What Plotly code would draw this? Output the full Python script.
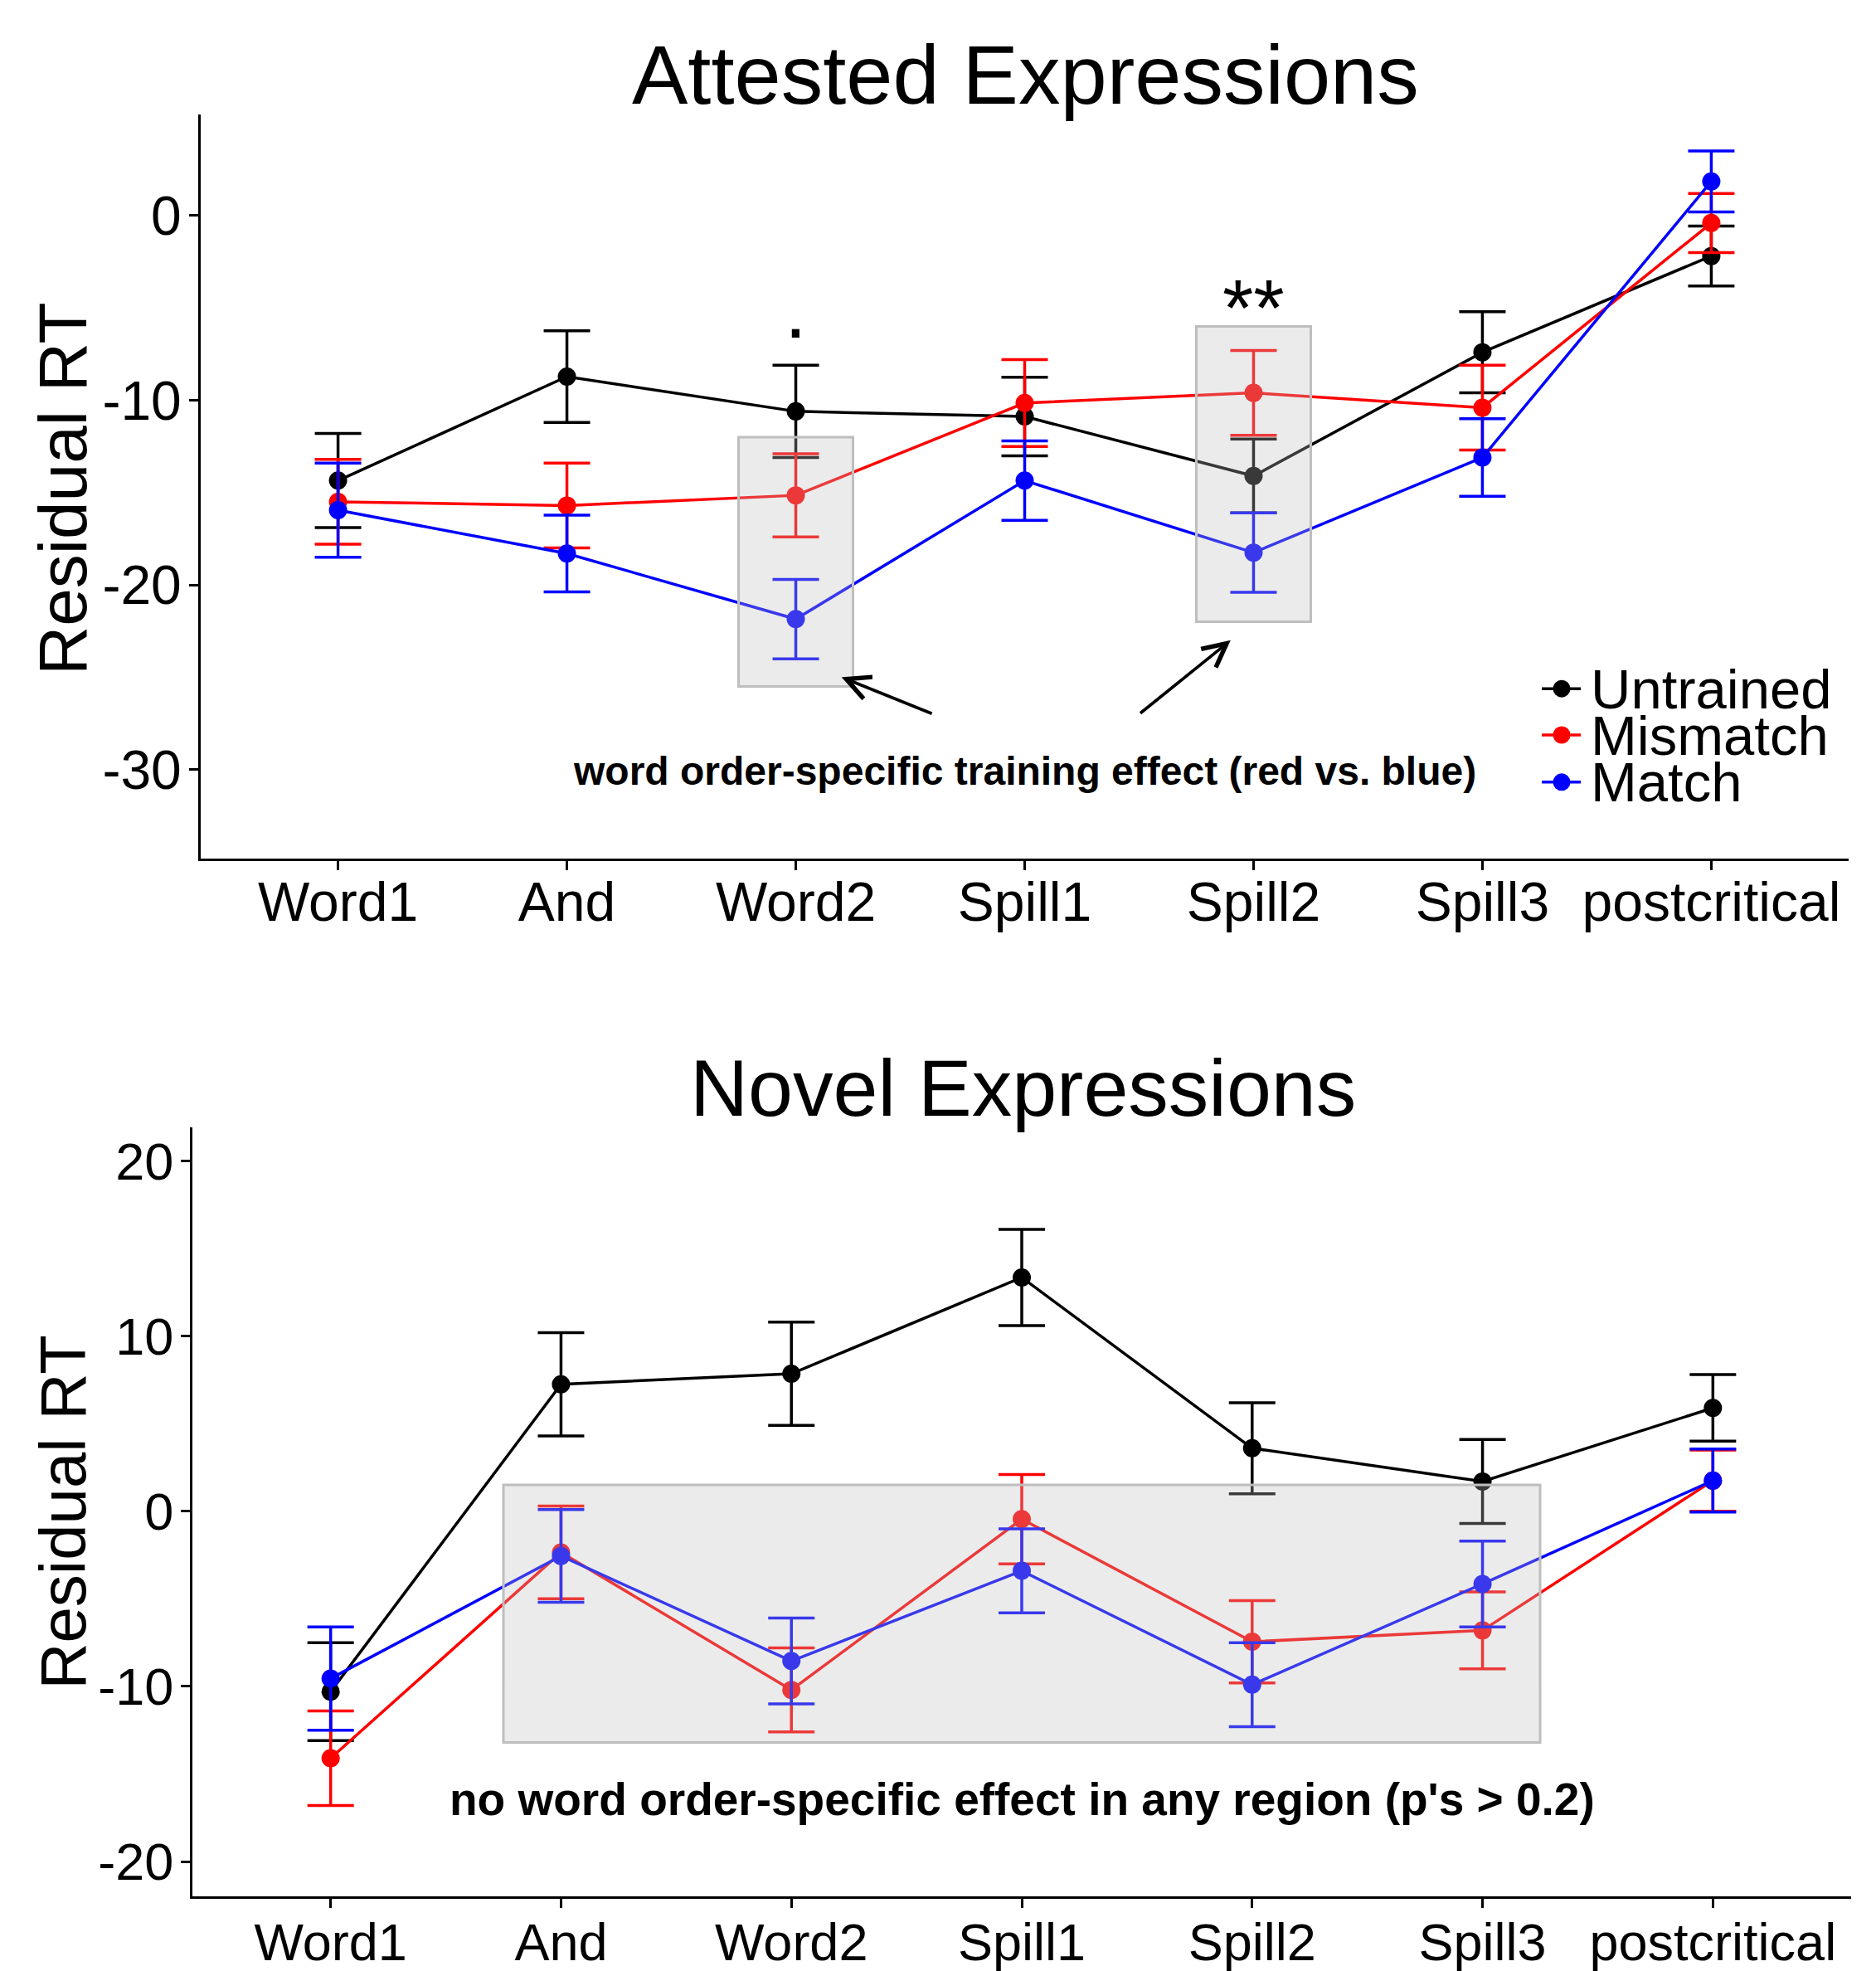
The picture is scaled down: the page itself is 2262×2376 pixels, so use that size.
import plotly.graph_objects as go

W, H = 2262, 2376
OFF = 8  # default body margin of the html page
FW, FH = W - OFF, H - OFF
FONT = "Liberation Sans, Arial, Helvetica, sans-serif"

categories = ["Word1", "And", "Word2", "Spill1", "Spill2", "Spill3", "postcritical"]
series_names = ["Untrained", "Mismatch", "Match"]
series_colors = ["#000000", "#FF0000", "#0000FF"]

# ---- Attested Expressions (top panel) ----
att_untrained = [-14.35, -8.72, -10.6, -10.88, -14.1, -7.4, -2.19]
att_untrained_se = [2.55, 2.48, 2.5, 2.13, 2.0, 2.2, 1.62]
att_mismatch = [-15.5, -15.7, -15.15, -10.15, -9.6, -10.4, -0.4]
att_mismatch_se = [2.3, 2.3, 2.25, 2.35, 2.3, 2.3, 1.6]
att_match = [-15.95, -18.3, -21.85, -14.35, -18.25, -13.1, 1.85]
att_match_se = [2.55, 2.08, 2.15, 2.15, 2.15, 2.1, 1.65]

# ---- Novel Expressions (bottom panel) ----
nov_untrained = [-10.3, 7.25, 7.85, 13.35, 3.6, 1.7, 5.9]
nov_untrained_se = [2.8, 2.95, 2.95, 2.75, 2.6, 2.4, 1.9]
nov_mismatch = [-14.1, -2.35, -10.2, -0.45, -7.45, -6.8, 1.75]
nov_mismatch_se = [2.7, 2.65, 2.4, 2.55, 2.35, 2.2, 1.75]
nov_match = [-9.55, -2.55, -8.55, -3.4, -9.9, -4.15, 1.75]
nov_match_se = [2.95, 2.65, 2.45, 2.4, 2.4, 2.45, 1.8]

top_ticks = [-30, -20, -10, 0]
bottom_ticks = [-20, -10, 0, 10, 20]

# highlight boxes: (x0, x1, y0, y1) in category-index / data units
top_boxes = [(1.75, 2.25, -25.5, -12.0), (3.75, 4.25, -22.0, -6.0)]
bottom_boxes = [(0.75, 5.25, -13.2, 1.5)]

fig = go.Figure()


def add_series(xa, ya, values, se, color, name):
    fig.add_trace(go.Scatter(
        x=categories, y=values, name=name, mode="lines+markers",
        xaxis=xa, yaxis=ya, showlegend=False,
        line=dict(color=color, width=3.5),
        marker=dict(color=color, size=22, line=dict(width=0)),
        error_y=dict(type="data", array=se, visible=True, color=color,
                     thickness=3.5, width=28),
    ))


top_data = [(att_untrained, att_untrained_se), (att_mismatch, att_mismatch_se), (att_match, att_match_se)]
bot_data = [(nov_untrained, nov_untrained_se), (nov_mismatch, nov_mismatch_se), (nov_match, nov_match_se)]
for (vals, se), col, nm in zip(top_data, series_colors, series_names):
    add_series("x", "y", vals, se, col, nm)
for (vals, se), col, nm in zip(bot_data, series_colors, series_names):
    add_series("x2", "y2", vals, se, col, nm)


def px_x(v):
    return (v - OFF) / FW


def px_y(v):
    return 1 - (v - OFF) / FH


axis_common = dict(showline=True, linecolor="black", linewidth=3, ticks="outside",
                   ticklen=11, tickwidth=3, tickcolor="black", showgrid=False,
                   zeroline=False, mirror=False)

fig.update_layout(
    width=FW, height=FH, margin=dict(l=0, r=0, t=0, b=0),
    paper_bgcolor="white", plot_bgcolor="white",
    font=dict(family=FONT, color="black"),
    xaxis=dict(domain=[px_x(242), px_x(2229)], anchor="y", type="category",
               categoryorder="array", categoryarray=categories,
               range=[-0.6, 6.6], tickfont=dict(size=66), ticklabelstandoff=-18,
               **axis_common),
    yaxis=dict(domain=[px_y(1038), px_y(138.6)], anchor="x", range=[-34.8, 5.47],
               tickvals=top_ticks, ticktext=[str(t) for t in top_ticks],
               tickfont=dict(size=66), ticklabelstandoff=-4, **axis_common),
    xaxis2=dict(domain=[px_x(232), px_x(2232)], anchor="y2", type="category",
                categoryorder="array", categoryarray=categories,
                range=[-0.6, 6.6], tickfont=dict(size=63), ticklabelstandoff=-13,
                **axis_common),
    yaxis2=dict(domain=[px_y(2294), px_y(1364)], anchor="x2", range=[-22, 21.9],
                tickvals=bottom_ticks, ticktext=[str(t) for t in bottom_ticks],
                tickfont=dict(size=63), ticklabelstandoff=-4, **axis_common),
)

shapes = []
for (x0, x1, y0, y1) in top_boxes:
    shapes.append(dict(type="rect", xref="x", yref="y", x0=x0, x1=x1, y0=y0, y1=y1,
                       fillcolor="rgba(190,190,190,0.3)", line=dict(color="#BEBEBE", width=3),
                       layer="above"))
for (x0, x1, y0, y1) in bottom_boxes:
    shapes.append(dict(type="rect", xref="x2", yref="y2", x0=x0, x1=x1, y0=y0, y1=y1,
                       fillcolor="rgba(190,190,190,0.3)", line=dict(color="#BEBEBE", width=3),
                       layer="above"))

annotations = []
# titles
annotations.append(dict(text="Attested Expressions", xref="paper", yref="paper",
                        x=px_x(1236), y=px_y(90), xanchor="center", yanchor="middle",
                        showarrow=False, font=dict(size=101)))
annotations.append(dict(text="Novel Expressions", xref="paper", yref="paper",
                        x=px_x(1233), y=px_y(1316), xanchor="center", yanchor="middle",
                        showarrow=False, font=dict(size=97)))
# y axis titles
annotations.append(dict(text="Residual RT", xref="paper", yref="paper",
                        x=px_x(75), y=px_y(591), xanchor="center", yanchor="middle",
                        textangle=-90, showarrow=False, font=dict(size=82)))
annotations.append(dict(text="Residual RT", xref="paper", yref="paper",
                        x=px_x(76), y=px_y(1829), xanchor="center", yanchor="middle",
                        textangle=-90, showarrow=False, font=dict(size=78)))
# significance marks
annotations.append(dict(text=".", xref="x", yref="y", x="Word2", y=-5.1,
                        xanchor="center", yanchor="middle", showarrow=False,
                        font=dict(size=96)))
annotations.append(dict(text="**", xref="x", yref="y", x="Spill2", y=-4.95,
                        xanchor="center", yanchor="middle", showarrow=False,
                        font=dict(size=96)))
# explanatory notes
annotations.append(dict(text="<b>word order-specific training effect (red vs. blue)</b>",
                        xref="x", yref="y", x="Spill1", y=-30.1, xanchor="center",
                        yanchor="middle", showarrow=False, font=dict(size=48)))
annotations.append(dict(text="<b>no word order-specific effect in any region (p's > 0.2)</b>",
                        xref="x2", yref="y2", x="Spill1", y=-16.45, xanchor="center",
                        yanchor="middle", showarrow=False, font=dict(size=55)))
# arrows (tip, tail)
for (tx, ty, sx, sy) in [(2.2, -25.0, 2.6, -27.0), (3.9, -23.0, 3.5, -27.0)]:
    annotations.append(dict(text="", xref="x", yref="y", axref="x", ayref="y",
                            x=tx, y=ty, ax=sx, ay=sy, showarrow=True, arrowhead=5,
                            arrowwidth=3.7, arrowsize=1.5, arrowcolor="black"))

# manual legend (top panel)
leg_rows = [833, 889, 946]
for name, col, yy in zip(series_names, series_colors, leg_rows):
    shapes.append(dict(type="line", xref="paper", yref="paper",
                       x0=px_x(1859), x1=px_x(1906), y0=px_y(yy), y1=px_y(yy),
                       line=dict(color=col, width=3.5)))
    shapes.append(dict(type="circle", xref="paper", yref="paper",
                       x0=px_x(1883 - 10.5), x1=px_x(1883 + 10.5),
                       y0=px_y(yy + 10.5), y1=px_y(yy - 10.5),
                       fillcolor=col, line=dict(width=0)))
    annotations.append(dict(text=name, xref="paper", yref="paper", x=px_x(1916),
                            y=px_y(yy), xanchor="left", yanchor="middle",
                            showarrow=False, font=dict(size=67)))

fig.update_layout(shapes=shapes, annotations=annotations)
fig.write_html("out.html")
